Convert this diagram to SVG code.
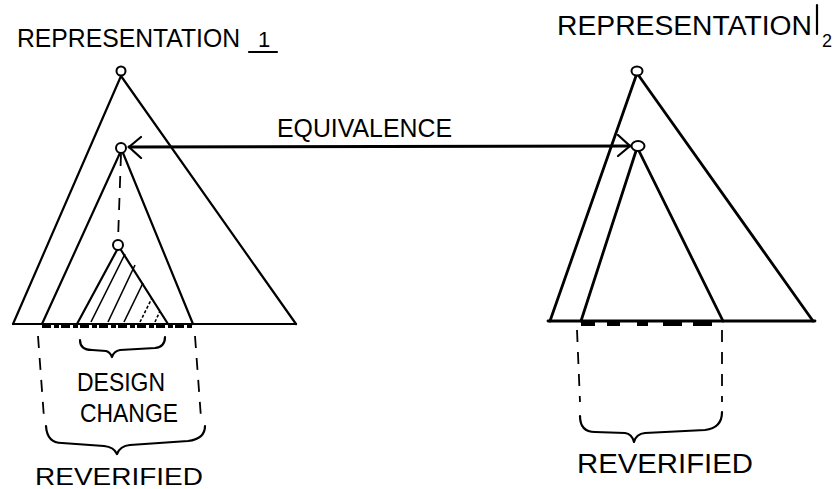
<svg xmlns="http://www.w3.org/2000/svg" width="835" height="489" viewBox="0 0 835 489">
<defs>
<style>
.ln{stroke:#000;stroke-width:2.2;fill:none;stroke-linecap:round;stroke-linejoin:round}
.thk{stroke:#000;stroke-width:2.8;fill:none;stroke-linecap:round}
.dash{stroke:#000;stroke-width:1.8;fill:none;stroke-dasharray:12 10}
.node{fill:#fff;stroke:#000;stroke-width:2}
.hatch{stroke:#000;stroke-width:1.6}
.tx{font-family:"Liberation Sans",Arial,sans-serif;fill:#000}
.base{stroke:#000;stroke-width:4;stroke-dasharray:9 3 5 2}
</style>
<marker id="ah" viewBox="-14 -12 16 24" markerWidth="16" markerHeight="24" refX="0" refY="0" orient="auto-start-reverse" markerUnits="userSpaceOnUse">
<path d="M-12,-11 L0,0 L-12,10" fill="none" stroke="#000" stroke-width="2.2" stroke-linecap="round"/>
</marker>
</defs>
<rect width="835" height="489" fill="#fff"/>

<g id="title1">
<text class="tx" x="17" y="47" font-size="25" textLength="223" lengthAdjust="spacingAndGlyphs">REPRESENTATION</text>
<text class="tx" x="264" y="47" font-size="22" text-anchor="middle">1</text>
<line class="ln" x1="249" y1="52" x2="277" y2="52"/>
</g>

<g id="title2">
<text class="tx" x="557" y="35" font-size="27" textLength="255" lengthAdjust="spacingAndGlyphs">REPRESENTATION</text>
<line class="ln" x1="817" y1="5" x2="817" y2="34"/>
<text class="tx" x="827" y="47" font-size="18" text-anchor="middle">2</text>
</g>

<g id="tree1">
<path class="ln" d="M13,324 L296,324"/>
<path class="ln" d="M121,76 L13,324 M121,76 L296,324"/>
<path class="ln" d="M120,153 L42,324 M123,153 L193,324"/>
<line class="dash" x1="121" y1="154" x2="118" y2="240"/>
<path class="ln" d="M117,250 L77,324 M121,250 L168,324"/>
<line class="hatch" x1="91" y1="322" x2="125" y2="254"/>
<line class="hatch" x1="108" y1="322" x2="135" y2="265"/>
<line class="hatch" x1="124" y1="322" x2="143" y2="283"/>
<line class="hatch" x1="140" y1="322" x2="152" y2="298" stroke-dasharray="3 2"/>
<line class="hatch" x1="155" y1="322" x2="160" y2="311" stroke-dasharray="3 2"/>
<line class="base" x1="42" y1="326" x2="193" y2="326"/>
<circle class="node" cx="121" cy="71" r="4.5"/>
<circle class="node" cx="121" cy="148" r="5"/>
<circle class="node" cx="118" cy="245" r="5"/>
</g>

<g id="tree2">
<path class="thk" d="M548,321 L815,321"/>
<path class="thk" d="M636,76 L550,321 M639,76 L813,321"/>
<path class="thk" d="M636,151 L581,321 M639,151 L723,321"/>
<g stroke="#000" stroke-width="4">
<line x1="581" y1="324" x2="595" y2="324"/>
<line x1="607" y1="324" x2="620" y2="324"/>
<line x1="637" y1="324" x2="648" y2="324"/>
<line x1="663" y1="324" x2="682" y2="324"/>
<line x1="693" y1="324" x2="712" y2="324"/>
</g>
<ellipse class="node" cx="637" cy="71" rx="5.5" ry="4.5"/>
<ellipse class="node" cx="638" cy="146" rx="6.5" ry="5"/>
</g>

<g id="connectors">
<line class="thk" x1="129" y1="147" x2="630" y2="146" marker-start="url(#ah)" marker-end="url(#ah)"/>
</g>

<g id="equivalence-label">
<text class="tx" x="277" y="137" font-size="26" textLength="175" lengthAdjust="spacingAndGlyphs">EQUIVALENCE</text>
</g>

<g id="design-change">
<path class="ln" d="M80,340 Q80,350 92,350 L106,351 Q110,352 112,357 Q114,351 120,350 L155,348 Q165,347 165,337"/>
<text class="tx" x="77" y="391" font-size="25" textLength="88" lengthAdjust="spacingAndGlyphs">DESIGN</text>
<text class="tx" x="80" y="422" font-size="25" textLength="98" lengthAdjust="spacingAndGlyphs">CHANGE</text>
</g>

<g id="reverified1">
<line class="dash" x1="38" y1="336" x2="44" y2="418"/>
<line class="dash" x1="195" y1="336" x2="201" y2="418"/>
<path class="ln" d="M46,426 Q47,443 62,443 L104,446 Q114,447 117,454 Q120,446 130,445 L188,441 Q205,439 205,426"/>
<text class="tx" x="35" y="485" font-size="24" textLength="168" lengthAdjust="spacingAndGlyphs">REVERIFIED</text>
</g>

<g id="reverified2">
<line class="dash" x1="577" y1="330" x2="580" y2="402"/>
<line class="dash" x1="722" y1="330" x2="722" y2="402"/>
<path class="ln" d="M580,416 Q580,432 595,432 L625,433 Q632,434 634,442 Q636,434 645,433 L705,430 Q722,428 722,412"/>
<text class="tx" x="577" y="473" font-size="27" textLength="176" lengthAdjust="spacingAndGlyphs">REVERIFIED</text>
</g>
</svg>
